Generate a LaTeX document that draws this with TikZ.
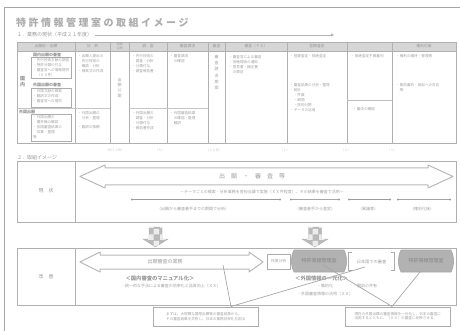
\documentclass[tikz,border=0pt]{standalone}
\usepackage{fontspec}
\setmainfont{Noto Sans CJK JP}
\newfontfamily\titlefont[LetterSpace=25]{Noto Sans CJK JP}
\usetikzlibrary{patterns,arrows.meta}
\begin{document}
\begin{tikzpicture}[x=1pt,y=-1pt,
  tx/.style={font=\fontsize{3.6}{5}\selectfont, text=gray!75, inner sep=0pt, anchor=north west, align=left},
  txb/.style={font=\bfseries\fontsize{4}{5}\selectfont, text=gray!85, inner sep=0pt, anchor=north west, align=left},
  hd/.style={font=\fontsize{3.8}{4.2}\selectfont, text=gray!80, inner sep=0pt, align=center},
  gridline/.style={draw=gray!62, line width=0.55pt},
  subbox/.style={draw=gray!65, line width=0.45pt},
  hollow/.style={draw=gray!55, line width=1pt, fill=white, line join=round},
  lab/.style={font=\fontsize{5}{6}\selectfont, text=gray!80, inner sep=0pt},
  sect/.style={font=\fontsize{5}{6}\selectfont, text=gray!80, inner sep=0pt, anchor=west},
  mid/.style={font=\fontsize{4}{5}\selectfont, text=gray!75, inner sep=0pt},
  faint/.style={font=\fontsize{3.2}{4}\selectfont, text=gray!45, inner sep=0pt},
  greyshape/.style={draw=gray!70, fill=gray!60, line width=0.6pt},
  greytext/.style={font=\fontsize{5}{6}\selectfont, text=gray!95, inner sep=0pt},
  calbox/.style={draw=gray!65, line width=0.5pt, inner sep=1.5pt, font=\fontsize{3.6}{4.8}\selectfont, text=gray!75, align=left, anchor=north west},
  conn/.style={draw=gray!70, line width=0.7pt},
  dotthin/.style={draw=gray!70, line width=0.6pt},
  dotthick/.style={draw=gray!78, line width=1.1pt},
  endpt/.style={circle, fill=gray!78, inner sep=0pt, minimum size=2.4pt},
  checkarrow/.style={fill=gray!55, draw=gray!65, line width=0.4pt, postaction={pattern=checkerboard, pattern color=gray!15}}
]
\useasboundingbox (0,0) rectangle (460,331);

% page frame
\draw[gray!70, line width=0.9pt] (4,331) -- (4,7) -- (460,7);

% title and section 1
\node[anchor=west, inner sep=0pt, font=\titlefont\bfseries\fontsize{10}{12}\selectfont, text=gray!65] (title) at (16,23) {特許情報管理室の取組イメージ};
\node[sect] (sub1) at (17,35) {１．業務の現状（平成２１年度）};
\coordinate (sl0) at (95,35);
\coordinate (sl1) at (334,35);
\draw[gray!60, line width=0.6pt, -{Triangle[length=3pt,width=3pt]}] (sl0) -- (sl1);

% table frame
\fill[gray!32] (17,42) rectangle (456,51);
\draw[gridline] (17,42) rectangle (456,143);
\draw[gridline] (17,51) -- (456,51);
\foreach \x in {75,110,129,167,208,225,287,347,392} \draw[gridline] (\x,42) -- (\x,143);
\draw[gridline, draw=gray!45] (17,108) -- (110,108) (129,108) -- (208,108);
\draw[gridline, draw=gray!50] (347,100) -- (392,100);

% headers
\node[hd] (h1) at (46,46.5) {出願前・出願};
\node[hd] (h2) at (92.5,46.5) {分　析};
\node[hd, font=\fontsize{3}{3.6}\selectfont] (h3) at (119.5,46.5) {出願\\公開};
\node[hd] (h4) at (148,46.5) {調　査};
\node[hd] (h5) at (187.5,46.5) {審査請求};
\node[hd] (h6) at (216.5,46.5) {審査};
\node[hd] (h7) at (256,46.5) {審査（ＦＡ）};
\node[hd] (h8) at (317,46.5) {登録査定};
\node[hd] (h10) at (424,46.5) {権利化後};

% column 1
\node[txb] (c1a) at (33,52.5) {国内出願の審査};
\draw[subbox] (31,57) rectangle (71,78);
\node[tx] (c1at) at (33,58.5) {・先行技術文献の調査\\・特許分類の付与\\・審査官への情報提供\\　（ＸＸ件）};
\node[txb, font=\bfseries\fontsize{5}{6.5}\selectfont, anchor=north, align=center] (c1v) at (22.5,76) {国\\内};
\node[txb] (c1b) at (33,82.5) {外国出願の審査};
\draw[subbox] (31,88) rectangle (71,107);
\node[tx] (c1bt) at (33,89.5) {・外国文献の検索\\・翻訳文の作成\\・審査官への提供};
\node[txb] (c1c) at (19,109.5) {外国出願};
\draw[subbox] (31,114) rectangle (71,141);
\node[tx] (c1ct) at (33,115.5) {・外国出願の\\　優先権の確認\\・各国審査結果の\\　収集・整理\\等};

% column 2
\node[tx] (c2a) at (78,54) {・出願人提出の\\　先行技術の\\　確認・分析\\・検索式の作成};
\node[tx] (c2b) at (78,111) {・外国出願の\\　分析・整理\\[4pt]・翻訳の依頼};
% column 3
\node[tx, anchor=north, align=center, font=\fontsize{4}{5.2}\selectfont] (c3v) at (119.5,78) {出\\願\\公\\開};
% column 4
\node[tx] (c4a) at (132,54) {・先行技術の\\　調査・分析\\・分類付与\\・調査報告書};
\node[tx] (c4b) at (132,111) {・外国出願の\\　調査・分析\\・分類付与\\・報告書作成};
% column 5
\node[tx] (c5a) at (170,54) {・審査請求\\　の確認};
\node[tx] (c5b) at (170,111) {・外国審査結果\\　の確認・整理\\　翻訳};
% column 6
\node[tx, anchor=north, align=center, font=\fontsize{4}{6.2}\selectfont] (c6v) at (216.5,55) {審\\査\\請\\求\\期\\間};
% column 7
\node[tx] (c7a) at (229,55) {・審査官による審査\\・拒絶理由の通知\\・意見書・補正書\\　の検討};
% column 8
\node[tx] (c8a) at (290,54) {・登録査定・拒絶査定};
\node[tx] (c8b) at (290,83) {・審査結果の分析・整理\\・統計\\　・件数\\　・期間\\　・技術分野};
\node[tx] (c8c) at (290,108) {・データの活用};
% column 9
\node[tx] (c9a) at (351,54) {・拒絶査定不服審判};
\node[tx] (c9b) at (353,107) {・審決の確認};
% column 10
\node[tx] (c10a) at (396,54) {・権利の維持・管理等};
\node[tx] (c10b) at (396,83) {・無効審判・訴訟への対応\\　等};

% faint notes under table
\node[faint] (n1) at (115,150) {（約１０件）};
\node[faint] (n2) at (160,150) {（５）};
\node[faint] (n3) at (214,150) {（３０日）};
\node[faint] (n4) at (285,150) {（１）};
\node[faint] (n5) at (346,150) {（２）};
\node[faint] (n6) at (392,150) {（３）};

% section 2
\node[sect] (sub2) at (17,158) {２．取組イメージ};

% box: current state
\draw[gridline] (17,161) rectangle (456,222);
\draw[gridline] (75,161) -- (75,222);
\node[lab] (now) at (46,191) {現　状};
\path[hollow] (80,176.5) -- (105,165) -- (105,168) -- (428,168) -- (428,165) -- (453,176.5) -- (428,188) -- (428,185) -- (105,185) -- (105,188) -- cycle;
\node[font=\fontsize{6}{7}\selectfont, text=gray!75, inner sep=0pt] (a1t) at (252,176) {出　願　・　審　査　等};
\node[mid] (a1s) at (262,191.5) {－テーマごとの検索・分析業務を各担当課で実施（ＸＸ件程度）、その結果を審査で活用－};
\node[endpt] (d1a) at (132,199.5) {};
\node[endpt] (d1b) at (280,199.5) {};
\node[endpt] (d2a) at (291,199.5) {};
\node[endpt] (d2b) at (339,199.5) {};
\node[endpt] (d3a) at (349,199.5) {};
\node[endpt] (d3b) at (390,199.5) {};
\node[endpt] (d4a) at (398,199.5) {};
\node[endpt] (d4b) at (450,199.5) {};
\draw[dotthick] (d1a) -- (d1b);
\draw[dotthin] (d2a) -- (d2b);
\draw[dotthick] (d3a) -- (d3b);
\draw[dotthin] (d4a) -- (d4b);
\node[mid] (l1) at (193,208.5) {（出願から審査着手までの期間で分析）};
\node[mid] (l2) at (315,208.5) {（審査着手から査定）};
\node[mid] (l3) at (368,208.5) {（異議等）};
\node[mid] (l4) at (422,208.5) {（権利化後）};

% patterned down arrows
\path[checkarrow] (149,227) -- (162,227) -- (162,239) -- (168,239) -- (155.5,247) -- (143,239) -- (149,239) -- cycle;
\path[checkarrow] (308.5,227) -- (321.5,227) -- (321.5,239) -- (328,239) -- (315,247) -- (302,239) -- (308.5,239) -- cycle;

% box: improvement
\draw[gridline] (17,248) rectangle (456,305);
\draw[gridline] (75,248) -- (75,305);
\node[lab] (imp) at (46,277) {改　善};
\path[hollow] (80,262) -- (100,252) -- (100,255) -- (249,255) -- (249,252) -- (263,262) -- (249,272) -- (249,269) -- (100,269) -- (100,272) -- cycle;
\node[font=\fontsize{5}{6}\selectfont, text=gray!75, inner sep=0pt] (a2t) at (165,261.5) {出願審査の業務};
\node[font=\bfseries\fontsize{5.3}{6}\selectfont, text=gray!80, inner sep=0pt] (manu) at (160,278) {＜国内審査のマニュアル化＞};
\node[mid] (manu2) at (171,286) {・統一的な手法による審査の効率化と品質向上（ＸＸ）};

\node[draw=gray!65, line width=0.5pt, minimum width=23pt, minimum height=15pt, inner sep=0pt, font=\fontsize{3.8}{4.5}\selectfont, text=gray!75] (fa) at (278.5,261.5) {外国分析};

\path[greyshape] (294,250) -- (344,250) to[bend left=25] (344,272) -- (294,272) to[bend left=25] (294,250);
\node[greytext] (gb1) at (319,261) {特許情報管理室};

\node[minimum width=46pt, minimum height=18pt, inner sep=0pt, font=\fontsize{4.2}{5}\selectfont, text=gray!75] (jpb) at (371.5,261.5) {日本語での審査};
\draw[gray!65, line width=0.6pt] (jpb.north west) ++(4,0) -- ++(-4,0) -- ++(0,18) -- ++(4,0);
\draw[gray!65, line width=0.6pt] (jpb.north east) ++(-4,0) -- ++(4,0) -- ++(0,18) -- ++(-4,0);

\path[greyshape] (401,250) -- (451,250) to[bend left=25] (451,272) -- (401,272) to[bend left=25] (401,250);
\node[greytext] (gb2) at (426,261) {特許情報管理室};

\node[font=\bfseries\fontsize{5.3}{6}\selectfont, text=gray!80, inner sep=0pt, anchor=west] (fr) at (295,278) {＜外国情報の一元化＞};
\node[mid, anchor=west] (fr2a) at (317,286) {・集約化};
\node[mid, anchor=west] (fr2b) at (353,286) {・翻訳の共有};
\node[mid, anchor=west] (fr3) at (297,294) {・外国審査情報の活用（ＸＸ）};

% callouts
\node[calbox, minimum width=105pt, minimum height=19pt] (cl) at (153,306.5) {まずは、大規模な国際出願等の審査結果から、\\その審査結果を共有し、日本の業務効率化を図る};
\node[calbox, minimum width=105pt, minimum height=19pt] (cr) at (345,306.5) {現在の外国出願の審査情報を一元化し、日本の審査に\\活用するとともに、（ＸＸ）の審査に反映させる};

\coordinate (clT) at (231,306.5);
\coordinate (crT) at (392,306.5);
\coordinate (pL1) at (223,265);
\coordinate (pL2) at (365,267);
\coordinate (pR1) at (323,265);
\coordinate (pR2) at (420,272);
\draw[conn] (clT) -- (pL1);
\draw[conn] (clT) -- (pL2);
\draw[conn] (crT) -- (pR1);
\draw[conn] (crT) -- (pR2);
\end{tikzpicture}
\end{document}
